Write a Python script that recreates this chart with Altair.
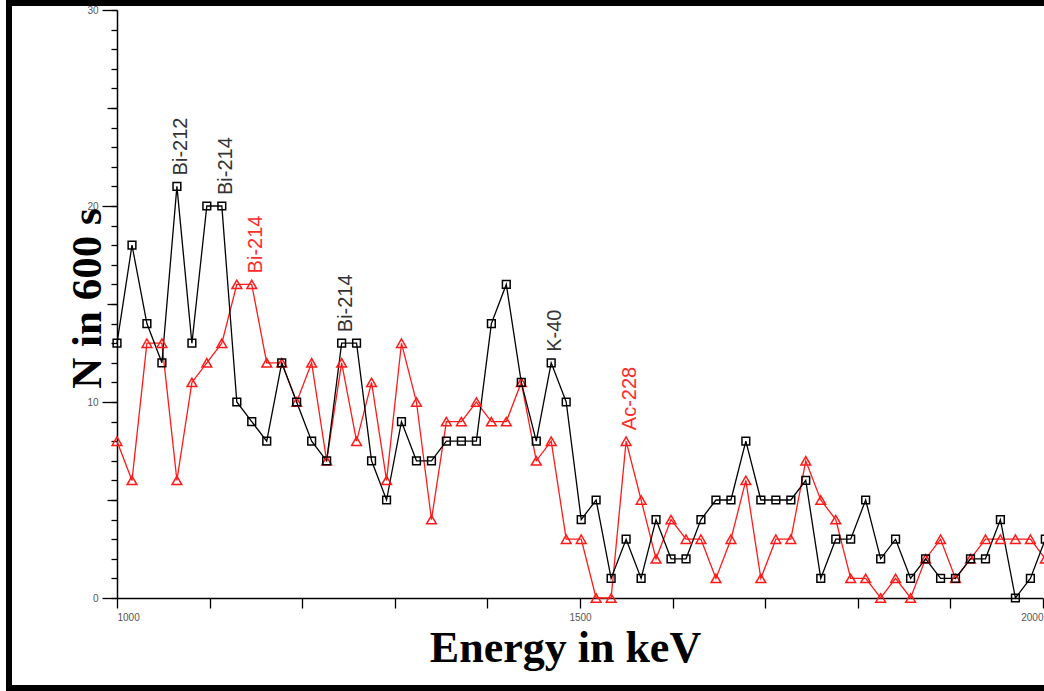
import altair as alt
import pandas as pd

# ---- data ----
energy_kev = [1000.0, 1016.2, 1032.3, 1048.5, 1064.7, 1080.9, 1097.0, 1113.2, 1129.4, 1145.5,
              1161.7, 1177.9, 1194.0, 1210.2, 1226.4, 1242.6, 1258.7, 1274.9, 1291.1, 1307.2,
              1323.4, 1339.6, 1355.7, 1371.9, 1388.1, 1404.3, 1420.4, 1436.6, 1452.8, 1468.9,
              1485.1, 1501.3, 1517.4, 1533.6, 1549.8, 1566.0, 1582.1, 1598.3, 1614.5, 1630.6,
              1646.8, 1663.0, 1679.1, 1695.3, 1711.5, 1727.7, 1743.8, 1760.0, 1776.2, 1792.3,
              1808.5, 1824.7, 1840.8, 1857.0, 1873.2, 1889.4, 1905.5, 1921.7, 1937.9, 1954.0,
              1970.2, 1986.4, 2002.5]

counts_black = [13, 18, 14, 12, 21, 13, 20, 20, 10, 9,
                8, 12, 10, 8, 7, 13, 13, 7, 5, 9,
                7, 7, 8, 8, 8, 14, 16, 11, 8, 12,
                10, 4, 5, 1, 3, 1, 4, 2, 2, 4,
                5, 5, 8, 5, 5, 5, 6, 1, 3, 3,
                5, 2, 3, 1, 2, 1, 1, 2, 2, 4,
                0, 1, 3]

counts_red = [8, 6, 13, 13, 6, 11, 12, 13, 16, 16,
              12, 12, 10, 12, 7, 12, 8, 11, 6, 13,
              10, 4, 9, 9, 10, 9, 9, 11, 7, 8,
              3, 3, 0, 0, 8, 5, 2, 4, 3, 3,
              1, 3, 6, 1, 3, 3, 7, 5, 4, 1,
              1, 0, 1, 0, 2, 3, 1, 2, 3, 3,
              3, 3, 2]

series_names = ["Spectrum 1", "Spectrum 2"]

ann_labels = ["Bi-212", "Bi-214", "Bi-214", "Bi-214", "K-40", "Ac-228"]
ann_energy = [1064.7, 1113.2, 1145.5, 1242.6, 1468.9, 1549.8]
ann_counts = [21, 20, 16, 13, 12, 8]
ann_series = ["Spectrum 1", "Spectrum 1", "Spectrum 2", "Spectrum 1", "Spectrum 1", "Spectrum 2"]

x_ticks = [1000, 1100, 1200, 1300, 1400, 1500, 1600, 1700, 1800, 1900, 2000]
y_major = [0, 10, 20, 30]
y_mid = [5, 15, 25]
y_minor = list(range(0, 31))

# ---- tables ----
df_black = pd.DataFrame({"energy": energy_kev, "count": counts_black})
df_red = pd.DataFrame({"energy": energy_kev, "count": counts_red})
df_ann = pd.DataFrame({"energy": ann_energy, "count": ann_counts,
                       "label": ann_labels, "series": ann_series})

xscale = alt.Scale(domain=[1000, 2000], nice=False, zero=False)
yscale = alt.Scale(domain=[0, 30], nice=False)

x_main = alt.Axis(values=x_ticks, format="d", tickSize=10, tickColor="#000", tickWidth=1.3,
                  domainColor="#000", domainWidth=1.5, grid=False,
                  labelExpr="datum.value % 500 == 0 ? datum.label : ''",
                  labelFont="Liberation Sans", labelFontSize=10, labelColor="#555",
                  labelPadding=4, labelFlush=True,
                  title="Energy in keV", titleFont="Liberation Serif", titleFontWeight="bold",
                  titleFontSize=44, titleColor="#000", titleX=448, titleY=63,
                  titleAlign="center", titleBaseline="alphabetic")

y_main = alt.Axis(values=y_major, orient="left", tickSize=15, tickColor="#000", tickWidth=1.3,
                  domainColor="#000", domainWidth=1.5, grid=False,
                  labelFont="Liberation Sans", labelFontSize=10, labelColor="#555",
                  labelPadding=4,
                  title="N in 600 s", titleFont="Liberation Serif", titleFontWeight="bold",
                  titleFontSize=43, titleColor="#000", titleAngle=270, titleX=-17, titleY=288,
                  titleAlign="center", titleBaseline="alphabetic")
y_mid_axis = alt.Axis(values=y_mid, orient="left", tickSize=10, tickColor="#000", tickWidth=1.3,
                      domain=False, labels=False, grid=False, title=None)
y_minor_axis = alt.Axis(values=y_minor, orient="left", tickSize=6, tickColor="#000", tickWidth=1.3,
                        domain=False, labels=False, grid=False, title=None)

black_line = alt.Chart(df_black).mark_line(color="#000000", strokeWidth=1.3).encode(
    x=alt.X("energy:Q", scale=xscale, axis=x_main),
    y=alt.Y("count:Q", scale=yscale, axis=y_main),
)
black_pts = alt.Chart(df_black).mark_point(shape="square", size=60, filled=False,
                                           color="#000000", strokeWidth=1.5, opacity=1).encode(
    x=alt.X("energy:Q", scale=xscale, axis=None),
    y=alt.Y("count:Q", scale=yscale, axis=None),
)
red_line = alt.Chart(df_red).mark_line(color="#ff1a1a", strokeWidth=1.3).encode(
    x=alt.X("energy:Q", scale=xscale, axis=None),
    y=alt.Y("count:Q", scale=yscale, axis=y_mid_axis),
)
red_pts = alt.Chart(df_red).mark_point(shape="triangle-up", size=95, filled=False,
                                       color="#ff1a1a", strokeWidth=1.5, opacity=1).encode(
    x=alt.X("energy:Q", scale=xscale, axis=None),
    y=alt.Y("count:Q", scale=yscale, axis=None),
)
ann = alt.Chart(df_ann).mark_text(angle=270, align="left", baseline="middle",
                                  font="Liberation Sans", fontSize=20, dx=11, dy=4).encode(
    x=alt.X("energy:Q", scale=xscale, axis=None),
    y=alt.Y("count:Q", scale=yscale, axis=y_minor_axis),
    text="label:N",
    color=alt.Color("series:N", scale=alt.Scale(domain=series_names,
                                                range=["#333333", "#ff2a2a"]), legend=None),
)
frame = alt.Chart(alt.Data(values=[{"f": 1}])).mark_rect(
    fill=None, stroke="#000000", strokeWidth=6).encode(
    x=alt.value(-108), x2=alt.value(945), y=alt.value(-7), y2=alt.value(678)
)

chart = alt.layer(red_line, black_line, red_pts, black_pts, ann, frame).resolve_scale(
    x="shared", y="shared"
).resolve_axis(x="independent", y="independent").properties(
    width=926, height=588,
    padding={"left": 117, "top": 10, "right": 1, "bottom": 93},
    autosize=alt.AutoSizeParams(type="none"),
    background="#ffffff",
).configure_view(stroke=None)

chart.save("out.html", embed_options={"renderer": "svg", "actions": False})
